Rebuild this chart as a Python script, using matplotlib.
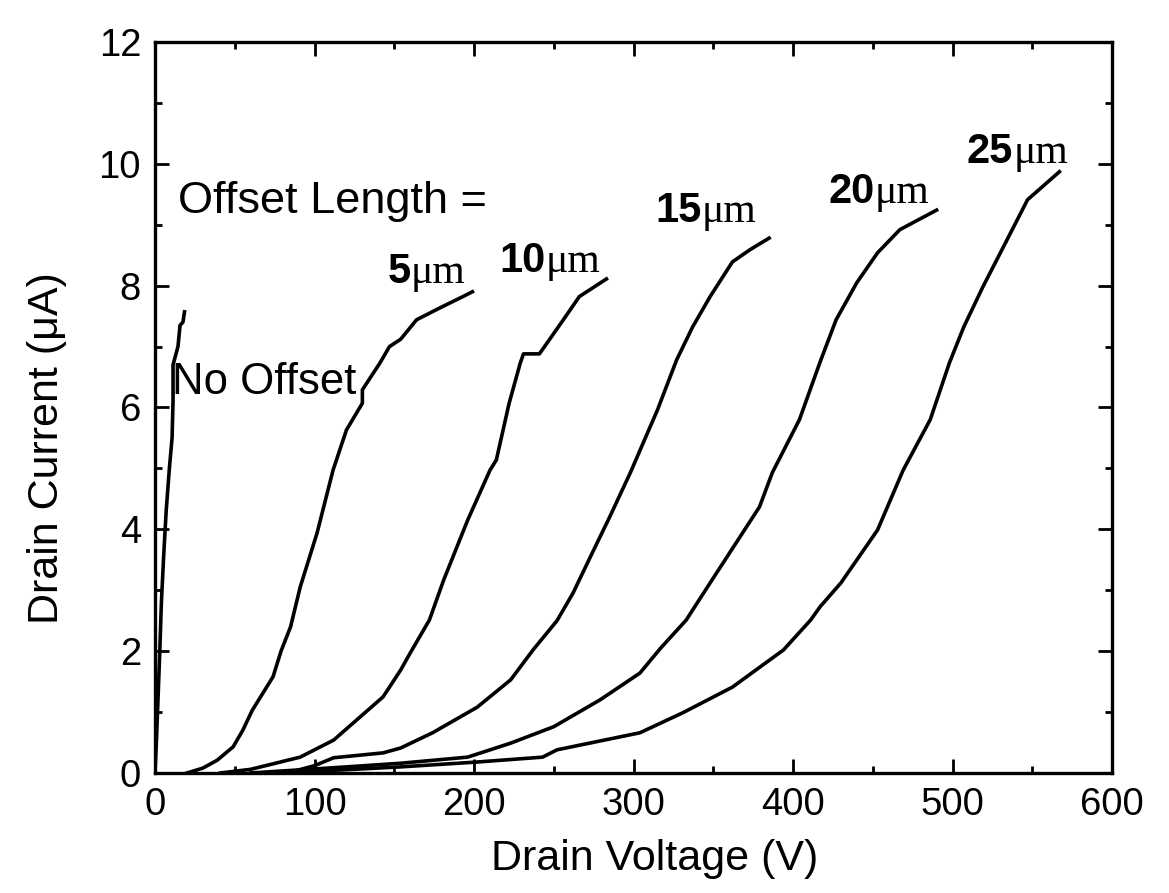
import matplotlib
matplotlib.use('Agg')
import matplotlib.pyplot as plt
from matplotlib.ticker import MultipleLocator

plt.rcParams['font.family'] = ['Liberation Sans', 'DejaVu Sans']

# Drain voltage (V) / drain current (uA)
v_no = [0, 1, 2, 3, 4, 5.5, 7, 9, 10.7, 11.3, 11.3, 14.4, 15.7, 17.5, 18.5]
i_no = [0, 0.6, 1.3, 2.0, 2.8, 3.6, 4.3, 5.0, 5.5, 6.1, 6.7, 7.0, 7.35, 7.4, 7.57]

v_5 = [20, 30, 39, 49, 55, 61, 74, 79, 85, 91, 101.6, 111.6, 120, 130, 130, 141, 147, 154, 164, 179, 193, 199]
i_5 = [0, 0.08, 0.21, 0.43, 0.7, 1.03, 1.58, 2.0, 2.4, 3.05, 3.94, 4.97, 5.63, 6.07, 6.29, 6.73, 7.0, 7.12, 7.44, 7.64, 7.82, 7.9]

v_10 = [41, 60, 91, 112, 143, 154, 160, 172, 181, 196, 210, 214, 222, 229, 231, 241, 256, 266, 283]
i_10 = [0, 0.06, 0.26, 0.54, 1.25, 1.69, 1.97, 2.51, 3.17, 4.15, 4.97, 5.14, 6.07, 6.73, 6.88, 6.88, 7.44, 7.82, 8.11]

v_15 = [83, 100, 112, 143, 154, 174, 202, 223, 237, 252, 262, 275, 285, 298, 315, 327, 337, 348, 362, 373, 385]
i_15 = [0, 0.12, 0.25, 0.33, 0.41, 0.66, 1.08, 1.53, 2.02, 2.5, 2.95, 3.66, 4.2, 4.93, 5.96, 6.78, 7.32, 7.82, 8.39, 8.59, 8.78]

v_20 = [60, 120, 154, 196, 223, 250, 279, 304, 317, 333, 348, 379, 387, 404, 417, 427, 440, 453, 467, 490]
i_20 = [0, 0.1, 0.16, 0.26, 0.49, 0.76, 1.2, 1.64, 2.05, 2.51, 3.12, 4.37, 4.93, 5.8, 6.75, 7.44, 8.05, 8.54, 8.92, 9.24]

v_25 = [80, 154, 202, 243, 252, 304, 331, 362, 394, 411, 417, 430, 453, 469, 486, 498, 507, 519, 530, 547, 567]
i_25 = [0, 0.1, 0.18, 0.26, 0.38, 0.66, 0.99, 1.41, 2.02, 2.51, 2.73, 3.12, 3.99, 4.97, 5.8, 6.73, 7.32, 7.98, 8.54, 9.41, 9.87]

# curve labels: number, x, y (baseline)
lab_nums = ['5', '10', '15', '20', '25']
lab_x = [146, 216, 313.5, 422, 509]
lab_y = [8.05, 8.23, 9.05, 9.36, 10.02]

fig = plt.figure(figsize=(11.69, 8.93), dpi=100)
ax = fig.add_axes([0.1326, 0.1344, 0.8187, 0.8186])

for v, i in [(v_no, i_no), (v_5, i_5), (v_10, i_10), (v_15, i_15), (v_20, i_20), (v_25, i_25)]:
    ax.plot(v, i, color='black', linewidth=2.6, solid_joinstyle='round')

ax.set_xlim(0, 600)
ax.set_ylim(0, 12)
ax.xaxis.set_major_locator(MultipleLocator(100))
ax.xaxis.set_minor_locator(MultipleLocator(50))
ax.yaxis.set_major_locator(MultipleLocator(2))
ax.yaxis.set_minor_locator(MultipleLocator(1))
ax.tick_params(which='both', direction='in', top=True, right=True, labelsize=27.5, pad=10)
ax.tick_params(which='major', length=10, width=2)
ax.tick_params(which='minor', length=5, width=2)
for s in ax.spines.values():
    s.set_linewidth(2.4)

ax.set_xlabel('Drain Voltage (V)', fontsize=31)
ax.set_ylabel('Drain Current (μA)', fontsize=31)
ax.xaxis.set_label_coords(0.522, -0.09)
ax.yaxis.set_label_coords(-0.092, 0.445)

ax.text(14.4, 9.2, 'Offset Length =', fontsize=32.5, va='baseline')
ax.text(10.7, 6.22, 'No Offset', fontsize=31.5, va='baseline')

for n, x, y in zip(lab_nums, lab_x, lab_y):
    t = ax.text(x, y, n, fontsize=30, fontweight='bold', va='baseline')
    ax.annotate('μm', xy=(1, 0), xycoords=t, fontsize=30,
                family='Liberation Serif', va='bottom', ha='left')

fig.savefig('out.png', dpi=100)
